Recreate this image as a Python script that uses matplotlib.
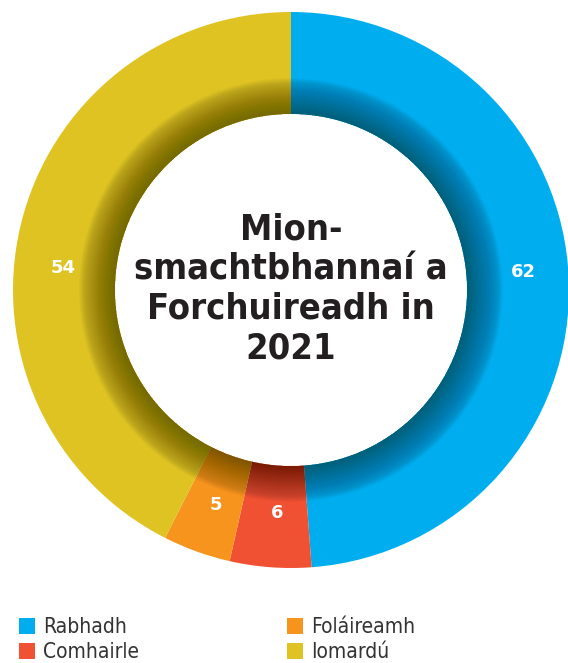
import matplotlib.pyplot as plt
from matplotlib.patches import Wedge
from matplotlib.lines import Line2D

# data
labels = ["Rabhadh", "Comhairle", "Foláireamh", "Iomardú"]
values = [62, 6, 5, 54]
colors = ["#00aeef", "#f05133", "#f7941d", "#dfc323"]
title = "Mion-\nsmachtbhannaí a\nForchuireadh in\n2021"

fig = plt.figure(figsize=(5.68, 6.63), dpi=100)
ax = fig.add_axes([0, 0, 1, 1])

cx, cy = 291, 663 - 290
R, r_in = 278, 176

wedges, _ = ax.pie(values, colors=colors, center=(cx, cy), radius=R,
                   startangle=90, counterclock=False,
                   wedgeprops=dict(width=R - r_in, linewidth=0))

# inner shadow band: stacked annuli, outermost first
n = 48
band = 36.0
def target(d):
    if d <= 30:
        return 0.37 - 0.0075 * d
    return max(0.0, 0.145 * (band - d) / (band - 30))

steps = [band * (k + 1) / n for k in range(n)]
T = [target(band * k / n) for k in range(n)] + [0.0]
for k in range(n - 1, -1, -1):
    a = 1 - (1 - T[k]) / (1 - T[k + 1])
    if a <= 0:
        continue
    ax.add_patch(Wedge((cx, cy), r_in + steps[k], 0, 360, width=steps[k],
                       facecolor="black", alpha=a, linewidth=0))

# value labels
pos = [(523, 272), (277, 513), (216, 505), (63, 268)]
for v, (x, y) in zip(values, pos):
    ax.text(x, 663 - y, str(v), color="white", fontsize=13, fontweight="bold",
            ha="center", va="center")

ax.text(cx, cy + 1, title, ha="center", va="center", fontsize=26,
        fontweight="bold", family="DejaVu Sans", fontstretch="condensed",
        color="#231f20", linespacing=1.2)

ax.set_xlim(0, 568)
ax.set_ylim(0, 663)
ax.set_aspect("equal")
ax.axis("off")

def handles(idx):
    return [Line2D([], [], marker="s", linestyle="", markersize=11,
                   markerfacecolor=colors[i], markeredgewidth=0) for i in idx]

font = dict(family="DejaVu Sans", stretch="condensed", size=15)
leg1 = ax.legend(handles([0, 1]), [labels[0], labels[1]], loc="upper left",
                 bbox_to_anchor=(8 / 568, 1 - 607 / 663), frameon=False,
                 prop=font, handlelength=0.8, handletextpad=0.4,
                 labelspacing=0.22, borderpad=0, labelcolor="#333333")
ax.add_artist(leg1)
ax.legend(handles([2, 3]), [labels[2], labels[3]], loc="upper left",
          bbox_to_anchor=(276 / 568, 1 - 607 / 663), frameon=False,
          prop=font, handlelength=0.8, handletextpad=0.4,
          labelspacing=0.22, borderpad=0, labelcolor="#333333")

fig.savefig("out.png", dpi=100)
